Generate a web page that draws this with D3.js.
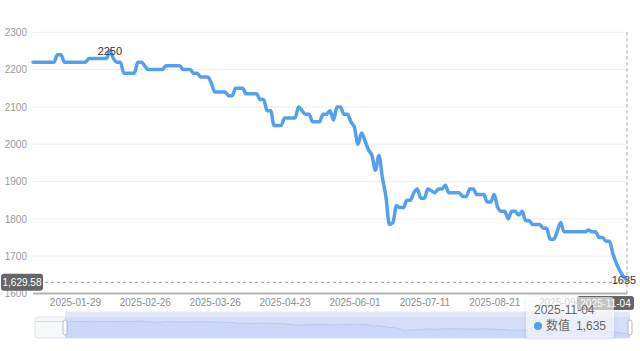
<!DOCTYPE html>
<html><head><meta charset="utf-8">
<script src="https://cdn.jsdelivr.net/npm/d3@7/dist/d3.min.js"></script>
<style>
html,body{margin:0;padding:0;background:#fff;}
svg{display:block;font-family:"Helvetica Neue",Helvetica,Arial,"Liberation Sans","Noto Sans CJK SC",sans-serif;}
</style></head>
<body>
<svg id="chart" width="640" height="351"></svg>
<script>
// ---- data ----
const values = [
2220,2220,2220,2220,2220,2220,2220,
2240,2240,
2220,2220,2220,2220,2220,2220,2220,
2230,2230,2230,2230,2230,2230,
2250,
2230,
2220,2220,
2190,2190,2190,2190,
2220,2220,
2210,
2200,2200,2200,2200,2200,
2210,2210,2210,2210,2210,
2200,2200,2200,
2190,2190,
2180,2180,2180,
2165,
2140,2140,2140,2140,
2130,2130,
2150,2150,2150,
2135,2135,2135,2135,
2120,2120,
2090,2090,
2050,2050,2050,
2070,2070,2070,2070,
2100,
2090,
2080,2080,
2060,2060,2060,
2080,2080,
2090,
2065,
2100,2100,
2080,2080,
2060,
2045,
2000,
2030,
2010,
1985,
1970,
1930,
1970,
1910,
1860,
1785,
1790,
1835,
1830,1830,
1850,1850,
1870,
1880,
1855,1855,
1880,
1875,
1870,
1880,1880,
1890,
1870,1870,1870,1870,
1860,1860,
1880,1880,
1865,1865,1865,
1845,1845,
1865,
1830,
1820,1820,
1800,
1820,1820,
1810,
1820,
1795,1795,
1785,1785,1785,
1775,1775,
1745,1745,
1765,
1790,
1765,1765,1765,1765,1765,1765,1765,
1770,
1765,1765,
1750,1750,
1740,1740,
1705,
1680,
1660,
1645,
1635
];
const tickLabels = ["2025-01-29","2025-02-26","2025-03-26","2025-04-23","2025-06-01","2025-07-11","2025-08-21","2025-09-26"];
const tickIndex = [12,32,52,72,92,112,132,152];
const yTicks = [1600,1700,1800,1900,2000,2100,2200,2300];
const lastDate = "2025-11-04";
const pointerValue = 1629.58;
const seriesName = "数值";

// ---- layout ----
const svg = d3.select("#chart");
const L = 33, R = 627, T = 32.3, B = 293.4;
const n = values.length;
const x = d3.scaleLinear().domain([0, n-1]).range([L, R]);
const y = d3.scaleLinear().domain([1600, 2300]).range([B, T]);
const lineColor = "#559ff0";

// grid
svg.append("g").selectAll("line").data(yTicks.filter(d=>d>1600)).join("line")
  .attr("x1", L).attr("x2", R).attr("y1", d=>y(d)).attr("y2", d=>y(d))
  .attr("stroke", "#eceef2").attr("stroke-width", 1);

// y axis labels
const yAxis = d3.axisLeft(y).tickValues(yTicks).tickSize(0).tickPadding(6).tickFormat(d3.format("d"));
const gy = svg.append("g").attr("transform", `translate(${L},0)`).call(yAxis);
gy.select(".domain").remove();
gy.selectAll("text").attr("fill", "#9a9a9a").attr("font-size", 10);

// x axis
const xAxis = d3.axisBottom(x).tickValues(tickIndex).tickSize(0).tickPadding(6)
  .tickFormat((d,i)=>tickLabels[i]);
const gx = svg.append("g").attr("transform", `translate(0,${B})`).call(xAxis);
gx.select(".domain").attr("stroke", "#b4b4b4").attr("stroke-width", 2)
  .attr("d", `M${L},0H${R}`);
gx.selectAll("text").attr("fill", "#8e8e8e").attr("font-size", 10);

// line
const line = d3.line().x((d,i)=>x(i)).y(d=>y(d)).curve(d3.curveMonotoneX);
svg.append("path").datum(values).attr("d", line)
  .attr("fill", "none").attr("stroke", lineColor).attr("stroke-width", 3.5)
  .attr("stroke-linejoin", "round").attr("stroke-linecap", "round");

// max / last labels
const maxI = values.indexOf(d3.max(values));
svg.append("text").attr("x", x(maxI)).attr("y", y(values[maxI])).attr("dy", "0.35em")
  .attr("text-anchor", "middle").attr("font-size", 11).attr("fill", "#333").text(values[maxI]);
svg.append("text").attr("x", x(n-1)-3).attr("y", y(values[n-1])).attr("dy", "0.35em")
  .attr("text-anchor", "middle").attr("font-size", 11).attr("fill", "#333").text(values[n-1]);

// axis pointers
svg.append("line").attr("x1", L).attr("x2", R).attr("y1", y(pointerValue)).attr("y2", y(pointerValue))
  .attr("stroke", "#a0a0a0").attr("stroke-dasharray", "3,3");
svg.append("line").attr("x1", x(n-1)).attr("x2", x(n-1)).attr("y1", T).attr("y2", B)
  .attr("stroke", "#a0a0a0").attr("stroke-dasharray", "3,3");
// y pointer label
svg.append("rect").attr("x", 1).attr("y", y(pointerValue)-8.5).attr("width", 42).attr("height", 17).attr("rx", 3)
  .attr("fill", "#666");
svg.append("text").attr("x", 22).attr("y", y(pointerValue)).attr("dy", "0.35em").attr("text-anchor", "middle")
  .attr("font-size", 10).attr("fill", "#fff").text(d3.format(",.2f")(pointerValue));

// dataZoom slider
const sx0 = 35, sx1 = 630, sy0 = 317, sy1 = 338;
const selStart = 65;
const ext = d3.extent(values), pad = (ext[1]-ext[0])*0.3;
const sy = d3.scaleLinear().domain([ext[0]-pad, ext[1]+pad]).range([sy1, sy0]);
const sxs = d3.scaleLinear().domain([0, n-1]).range([selStart, sx1]);
svg.append("rect").attr("x", sx0).attr("y", sy0).attr("width", sx1-sx0).attr("height", sy1-sy0)
  .attr("rx", 3).attr("fill", "#f6f8fc").attr("stroke", "#dfe4ef");
// unselected shadow
svg.append("path").attr("d", `M${sx0},${sy(values[0])}H${selStart}`).attr("stroke", "#d2dbee").attr("fill", "none");
// selected filler
svg.append("rect").attr("x", selStart).attr("y", sy0).attr("width", sx1-selStart).attr("height", sy1-sy0)
  .attr("fill", "#d5def8");
svg.append("rect").attr("x", selStart).attr("y", 311.5).attr("width", sx1-selStart).attr("height", 5.5)
  .attr("fill", "#e1e7f8");
const area = d3.area().x((d,i)=>sxs(i)).y0(sy1).y1(d=>sy(d));
svg.append("path").datum(values).attr("d", area).attr("fill", "#8fb0f7").attr("fill-opacity", 0.15);
svg.append("path").datum(values).attr("d", d3.line().x((d,i)=>sxs(i)).y(d=>sy(d)))
  .attr("fill", "none").attr("stroke", "#b8c8f2").attr("stroke-width", 1);
// handles
[selStart, sx1].forEach(hx => {
  svg.append("rect").attr("x", hx-2).attr("y", 320).attr("width", 4).attr("height", 15).attr("rx", 2)
    .attr("fill", "#fff").attr("stroke", "#a8a8a8").attr("stroke-width", 0.8);
});

// x pointer label
svg.append("rect").attr("x", 577).attr("y", 296).attr("width", 57).attr("height", 14).attr("rx", 3).attr("fill", "#666");
svg.append("text").attr("x", 605.5).attr("y", 303).attr("dy", "0.35em").attr("text-anchor", "middle")
  .attr("font-size", 10).attr("fill", "#fff").text(lastDate);

// tooltip
const defs = svg.append("defs");
const f = defs.append("filter").attr("id", "sh").attr("x", "-20%").attr("y", "-20%").attr("width", "140%").attr("height", "160%");
f.append("feDropShadow").attr("dx", 0).attr("dy", 1).attr("stdDeviation", 2).attr("flood-color", "#000").attr("flood-opacity", 0.15);
const tt = svg.append("g").attr("transform", "translate(526,297)");
tt.append("rect").attr("width", 88).attr("height", 41).attr("rx", 4)
  .attr("fill", "#fff").attr("fill-opacity", 0.6).attr("filter", "url(#sh)");
tt.append("text").attr("x", 8).attr("y", 13).attr("dy", "0.35em").attr("font-size", 12).attr("fill", "#666").text(lastDate);
tt.append("circle").attr("cx", 12).attr("cy", 29).attr("r", 4).attr("fill", lineColor);
tt.append("text").attr("x", 20).attr("y", 29).attr("dy", "0.35em").attr("font-size", 12).attr("fill", "#666")
  .attr("font-family", "'Noto Sans CJK SC', sans-serif").text(seriesName);
tt.append("text").attr("x", 80).attr("y", 29).attr("dy", "0.35em").attr("text-anchor", "end").attr("font-size", 12)
  .attr("fill", "#666").text(d3.format(",")(values[n-1]));
</script>
</body></html>
